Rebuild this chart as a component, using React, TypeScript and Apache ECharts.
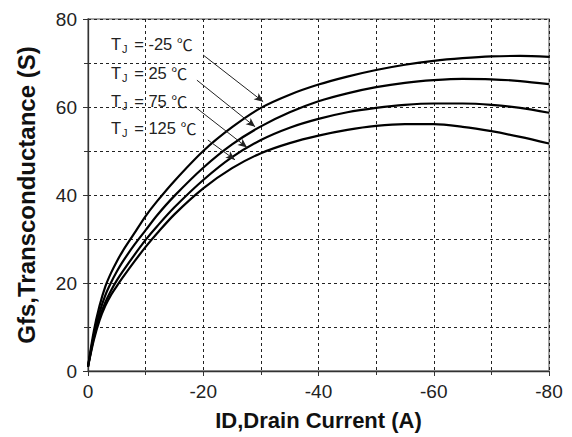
import React, { useEffect, useRef } from "react";
import * as echarts from "echarts";

const currents = [0, -1, -2, -3, -4, -5, -6, -8, -10, -12, -15, -20, -25, -30, -35, -40, -45, -50, -55, -60, -65, -70, -75, -80];
const gfsM25 = [1, 9, 14.8, 19.2, 22.3, 24.9, 27.2, 31.2, 35.2, 38.6, 43.2, 50, 55.4, 59.8, 62.8, 65.1, 66.9, 68.4, 69.6, 70.5, 71.1, 71.5, 71.6, 71.4];
const gfs25 = [1, 8, 13.3, 17.2, 20.1, 22.6, 24.8, 28.6, 32, 35.4, 39.8, 46.2, 51.5, 55.6, 58.8, 61.3, 63.1, 64.5, 65.5, 66.1, 66.4, 66.3, 65.9, 65.2];
const gfs75 = [1, 7.5, 12.2, 15.6, 18.3, 20.6, 22.6, 26.3, 29.8, 32.9, 37.2, 43.4, 48.6, 52.5, 55.3, 57.3, 58.8, 59.8, 60.5, 60.8, 60.8, 60.5, 59.8, 58.7];
const gfs125 = [1, 7, 11.5, 14.8, 17.3, 19.3, 21.2, 24.8, 28.2, 31.3, 35.6, 41.5, 46.1, 49.5, 51.8, 53.5, 54.8, 55.7, 56.1, 56.1, 55.5, 54.5, 53.2, 51.7];

const seriesNames = ["TJ = -25 ℃", "TJ = 25 ℃", "TJ = 75 ℃", "TJ = 125 ℃"];
const labelTemps = ["-25", "25", "75", "125"];
// arrow start / end in data coordinates [current, gfs]
const arrowFrom = [[-20, 71.8], [-18.9, 66.1], [-18.6, 60], [-20.8, 52.5]];
const arrowTo = [[-30.4, 61.2], [-29, 55.5], [-27.6, 50.8], [-25.5, 48]];

const xTicks = [0, -20, -40, -60, -80];
const yTicks = [0, 20, 40, 60, 80];

const FONT = "'Liberation Sans', Arial, 'Noto Sans CJK SC', sans-serif";

export default function App() {
  const ref = useRef<HTMLDivElement>(null);
  useEffect(() => {
    if (!ref.current) return;
    const chart = echarts.init(ref.current, undefined, { renderer: "svg" });
    const all = [gfsM25, gfs25, gfs75, gfs125];
    const series: any[] = all.map((ys, i) => ({
      name: seriesNames[i],
      type: "line",
      data: currents.map((c, k) => [c, ys[k]]),
      smooth: 0.3,
      showSymbol: false,
      symbol: "none",
      lineStyle: { color: "#000", width: 2.2 },
      z: 3,
      markLine: {
        silent: true,
        symbol: ["none", "arrow"],
        symbolSize: [6, 9],
        label: { show: false },
        lineStyle: { color: "#222", width: 1, type: "solid" },
        data: [[{ coord: arrowFrom[i] }, { coord: arrowTo[i] }]],
      },
    }));
    const labelYs = [45, 73.3, 101.7, 128.3];
    chart.setOption({
      animation: false,
      grid: {
        left: 88,
        right: 23,
        top: 19,
        bottom: 66,
        show: true,
        borderColor: "#888",
        borderWidth: 1.5,
      },
      xAxis: {
        type: "value",
        min: -80,
        max: 0,
        interval: 20,
        inverse: true,
        axisLine: { show: true, onZero: false, lineStyle: { color: "#333", width: 1.3 } },
        axisTick: { show: true, length: 5, lineStyle: { color: "#333" } },
        minorTick: { show: true, splitNumber: 2, length: 4, lineStyle: { color: "#333" } },
        axisLabel: {
          color: "#222",
          fontSize: 19,
          fontFamily: FONT,
          margin: 11,
          formatter: (v: number) => (xTicks.includes(v) ? String(v) : ""),
        },
        splitLine: { show: true, lineStyle: { color: "#222", type: [3, 3], width: 1 } },
        minorSplitLine: { show: true, lineStyle: { color: "#222", type: [3, 3], width: 1 } },
        name: "ID,Drain Current (A)",
        nameLocation: "middle",
        nameGap: 38,
        nameTextStyle: { fontSize: 22, fontWeight: "bold", color: "#111", fontFamily: FONT },
      },
      yAxis: {
        type: "value",
        min: 0,
        max: 80,
        interval: 20,
        axisLine: { show: true, onZero: false, lineStyle: { color: "#333", width: 1.3 } },
        axisTick: { show: true, length: 5, lineStyle: { color: "#333" } },
        minorTick: { show: true, splitNumber: 2, length: 4, lineStyle: { color: "#333" } },
        axisLabel: {
          color: "#222",
          fontSize: 19,
          fontFamily: FONT,
          margin: 11,
          formatter: (v: number) => (yTicks.includes(v) ? String(v) : ""),
        },
        splitLine: { show: true, lineStyle: { color: "#222", type: [3, 3], width: 1 } },
        minorSplitLine: { show: true, lineStyle: { color: "#222", type: [3, 3], width: 1 } },
        name: "Gfs,Transconductance (S)",
        nameLocation: "middle",
        nameGap: 50,
        nameTextStyle: { fontSize: 24, fontWeight: "bold", color: "#111", fontFamily: FONT },
      },
      graphic: labelTemps.map((t, i) => ({
        type: "text",
        left: 111,
        top: labelYs[i] - 9,
        z: 10,
        style: {
          text: `T{s|J} = ${t} {c|℃}`,
          fill: "#222",
          font: `16.5px ${FONT}`,
          rich: {
            s: { fontSize: 11, fontFamily: FONT, fill: "#222", padding: [10, 2, 0, 1] },
            c: { fontSize: 16, fontFamily: "'Noto Sans CJK SC', sans-serif", fill: "#222" },
          },
        },
      })),
      series,
    });
    return () => chart.dispose();
  }, []);
  return (
    <div
      ref={ref}
      style={{ position: "absolute", left: 0, top: 0, width: 572, height: 437, background: "#fff" }}
    />
  );
}
